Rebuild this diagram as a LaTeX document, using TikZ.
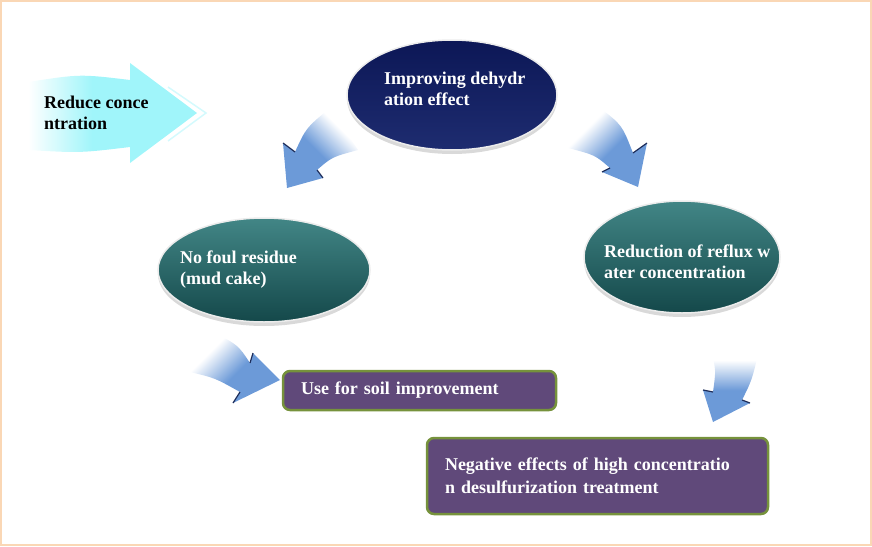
\documentclass[tikz,border=0pt]{standalone}
\usepackage{fontspec}
\setmainfont{Liberation Serif}
\usetikzlibrary{shapes.geometric,shadows}

\definecolor{framecol}{RGB}{250,215,181}
\definecolor{navytop}{RGB}{12,23,86}
\definecolor{navybot}{RGB}{30,44,112}
\definecolor{tealtop}{RGB}{66,134,134}
\definecolor{tealmid}{RGB}{28,88,90}
\definecolor{tealbot}{RGB}{20,72,74}
\definecolor{boxfill}{RGB}{96,73,122}
\definecolor{boxline}{RGB}{118,146,60}
\definecolor{arrowblue}{RGB}{108,154,216}
\definecolor{notchcol}{RGB}{30,45,90}
\definecolor{cyanarrow}{RGB}{160,245,250}

\pgfdeclarehorizontalshading{arrowfade}{100bp}{color(0bp)=(arrowblue); color(47bp)=(arrowblue); color(68bp)=(white); color(100bp)=(white)}
\pgfdeclarehorizontalshading{cyanfade}{100bp}{color(0bp)=(white); color(25bp)=(white); color(44bp)=(cyanarrow); color(100bp)=(cyanarrow)}

\tikzset{
  bubble/.style={ellipse, draw=white!85!gray, line width=1.5pt,
    drop shadow={opacity=0.3, shadow xshift=0pt, shadow yshift=-4pt}},
  navybubble/.style={bubble, top color=navytop, bottom color=navybot},
  tealbubble/.style={bubble, top color=tealtop, middle color=tealmid, bottom color=tealbot},
  bubbletext/.style={anchor=west, inner sep=0pt, align=left, text=white,
    font=\fontsize{18}{21}\selectfont\bfseries},
  notebox/.style={rectangle, rounded corners=7pt, draw=boxline, line width=2.5pt,
    fill=boxfill, text=white, align=left, inner xsep=18pt,
    font=\fontsize{18}{23}\selectfont\bfseries},
  notchline/.style={notchcol, line width=1.2pt},
}

\begin{document}
\begin{tikzpicture}[x=1pt,y=-1pt]
  \useasboundingbox (0,0) rectangle (872,546);
  % Frame
  \draw[framecol, line width=2pt] (1,1) rectangle (871,545);

  % Cyan arrow
  \shade[shading=cyanfade] (28,82) .. controls (80,74) .. (130,80) -- (130,63)
    -- (197,113) -- (130,163) -- (130,147) .. controls (80,153) .. (28,150) -- cycle;
  \draw[cyanarrow!45, line width=1.5pt] (168,87) -- (206,113) -- (168,141);
  \node[anchor=west, inner sep=0pt, align=left,
    font=\fontsize{18}{21}\selectfont\bfseries] (reduce) at (44,113) {Reduce conce\\ntration};

  % Ellipses
  \node[navybubble, minimum width=210pt, minimum height=110pt] (dehyd) at (452,95) {};
  \node[bubbletext] (dehydtxt) at (384,89) {Improving dehydr\\ation effect};
  \node[tealbubble, minimum width=212pt, minimum height=104pt] (residue) at (264,270) {};
  \node[bubbletext] (residuetxt) at (180,270) {No foul residue\\(mud\ cake)};
  \node[tealbubble, minimum width=196pt, minimum height=112pt] (reflux) at (682,257) {};
  \node[bubbletext] (refluxtxt) at (604,262) {Reduction of reflux w\\ater concentration};

  % Boxes
  \node[notebox, minimum width=273pt, minimum height=39pt, text width=237pt] (soil)
    at (419.5,390.5) {Use for soil improvement};
  \node[notebox, minimum width=341pt, minimum height=76pt, text width=305pt] (negative)
    at (597.5,476) {Negative effects of high concentratio\\n desulfurization treatment};

  % Arrow to the left ellipse
  \shade[shading=arrowfade, shading angle=45] (330,108) .. controls (306,128) .. (295,152)
    -- (283,143) -- (287,188) -- (323,178) -- (317,170) .. controls (332,157) .. (358,150) -- cycle;
  \draw[notchline] (283,143) -- (295,152);
  \draw[notchline] (323,178) -- (317,170);
  % Arrow to the right ellipse
  \shade[shading=arrowfade, shading angle=135] (600,108) .. controls (622,125) .. (633,153)
    -- (647,143) -- (638,187) -- (602,172) -- (610,168) .. controls (595,155) .. (568,148) -- cycle;
  \draw[notchline] (647,143) -- (633,153);
  \draw[notchline] (602,172) -- (610,168);
  % Arrow to the soil box
  \shade[shading=arrowfade, shading angle=135] (213,332) .. controls (238,345) .. (250,363)
    -- (253,353) -- (280,380) -- (233,403) -- (240,392) .. controls (215,378) .. (190,372) -- cycle;
  \draw[notchline] (253,353) -- (250,363);
  \draw[notchline] (233,403) -- (240,392);
  % Arrow to the lower box
  \shade[shading=arrowfade, shading angle=90] (711,350) .. controls (716,370) .. (713,392)
    -- (703,390) -- (713,422) -- (750,403) -- (742,400) .. controls (752,380) .. (759,350) -- cycle;
  \draw[notchline] (703,390) -- (713,392);
  \draw[notchline] (750,403) -- (742,400);
\end{tikzpicture}
\end{document}
